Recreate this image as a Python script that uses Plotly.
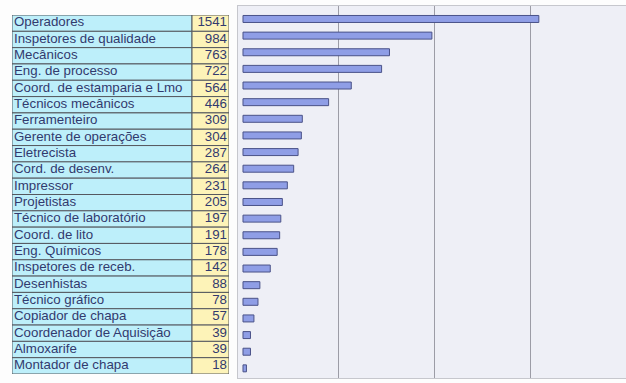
import plotly.graph_objects as go

labels = ["Operadores", "Inspetores de qualidade", "Mecânicos", "Eng. de processo",
          "Coord. de estamparia e Lmo", "Técnicos mecânicos", "Ferramenteiro",
          "Gerente de operações", "Eletrecista", "Cord. de desenv.", "Impressor",
          "Projetistas", "Técnico de laboratório", "Coord. de lito", "Eng. Químicos",
          "Inspetores de receb.", "Desenhistas", "Técnico gráfico", "Copiador de chapa",
          "Coordenador de Aquisição", "Almoxarife", "Montador de chapa"]
values = [1541, 984, 763, 722, 564, 446, 309, 304, 287, 264, 231, 205, 197, 191,
          178, 142, 88, 78, 57, 39, 39, 18]
grid_ticks = [500, 1000, 1500]

W, H = 626, 383
LABEL_COL = 180
VALUE_COL = 37
n = len(labels)

text_color = "#323a6e"
font_family = "Liberation Sans, Arial, sans-serif"

fig = go.Figure()

# chart bars
fig.add_trace(go.Bar(
    x=values, y=labels, orientation="h", width=0.42,
    marker=dict(color="#8f9ee6", line=dict(color="#4a5288", width=1)),
    xaxis="x", yaxis="y", hoverinfo="x+y", showlegend=False,
))

# table cells
fig.add_trace(go.Bar(
    x=[LABEL_COL] * n, y=labels, base=[0] * n, orientation="h", width=1,
    marker=dict(color="#bdeffa", line=dict(color="#55585f", width=1)),
    xaxis="x2", yaxis="y2", hoverinfo="skip", showlegend=False,
))
fig.add_trace(go.Bar(
    x=[VALUE_COL] * n, y=labels, base=[LABEL_COL] * n, orientation="h", width=1,
    marker=dict(color="#fdf3b8", line=dict(color="#55585f", width=1)),
    xaxis="x2", yaxis="y2", hoverinfo="skip", showlegend=False,
))
fig.add_trace(go.Scatter(
    x=[2] * n, y=labels, text=labels, mode="text", textposition="middle right",
    textfont=dict(family=font_family, size=13.3, color=text_color),
    xaxis="x2", yaxis="y2", hoverinfo="skip", showlegend=False,
))
fig.add_trace(go.Scatter(
    x=[LABEL_COL + VALUE_COL - 2] * n, y=labels, text=[str(v) for v in values],
    mode="text", textposition="middle left",
    textfont=dict(family=font_family, size=13.3, color=text_color),
    xaxis="x2", yaxis="y2", hoverinfo="skip", showlegend=False,
))

frame = "#c6c7cd"
fig.update_layout(
    width=W, height=H,
    margin=dict(l=0, r=0, t=0, b=0),
    paper_bgcolor="#fdfdfd",
    plot_bgcolor="#eeeff6",
    barmode="overlay",
    showlegend=False,
    xaxis=dict(domain=[238 / W, 1], range=[-26, 1995], tickvals=grid_ticks,
               showticklabels=False, showgrid=True, gridcolor="#9c9ca6", gridwidth=1,
               zeroline=False, showline=True, mirror=True, linecolor=frame, linewidth=1,
               ticks=""),
    yaxis=dict(domain=[1 - 378 / H, 1 - 6 / H], type="category",
               categoryorder="array", categoryarray=labels,
               range=[21.58, -0.78], showticklabels=False, showgrid=False,
               zeroline=False, showline=True, linecolor=frame, linewidth=1, ticks=""),
    xaxis2=dict(domain=[12 / W, (12 + LABEL_COL + VALUE_COL) / W],
                range=[0, LABEL_COL + VALUE_COL], visible=False, anchor="y2"),
    yaxis2=dict(domain=[1 - 374 / H, 1 - 15 / H], type="category",
                categoryorder="array", categoryarray=labels,
                range=[n - 0.5, -0.5], visible=False, anchor="x2"),
)

fig.write_html("out.html", config={"displayModeBar": False},
               post_script="document.body.style.margin='0';document.body.style.overflow='hidden';")
